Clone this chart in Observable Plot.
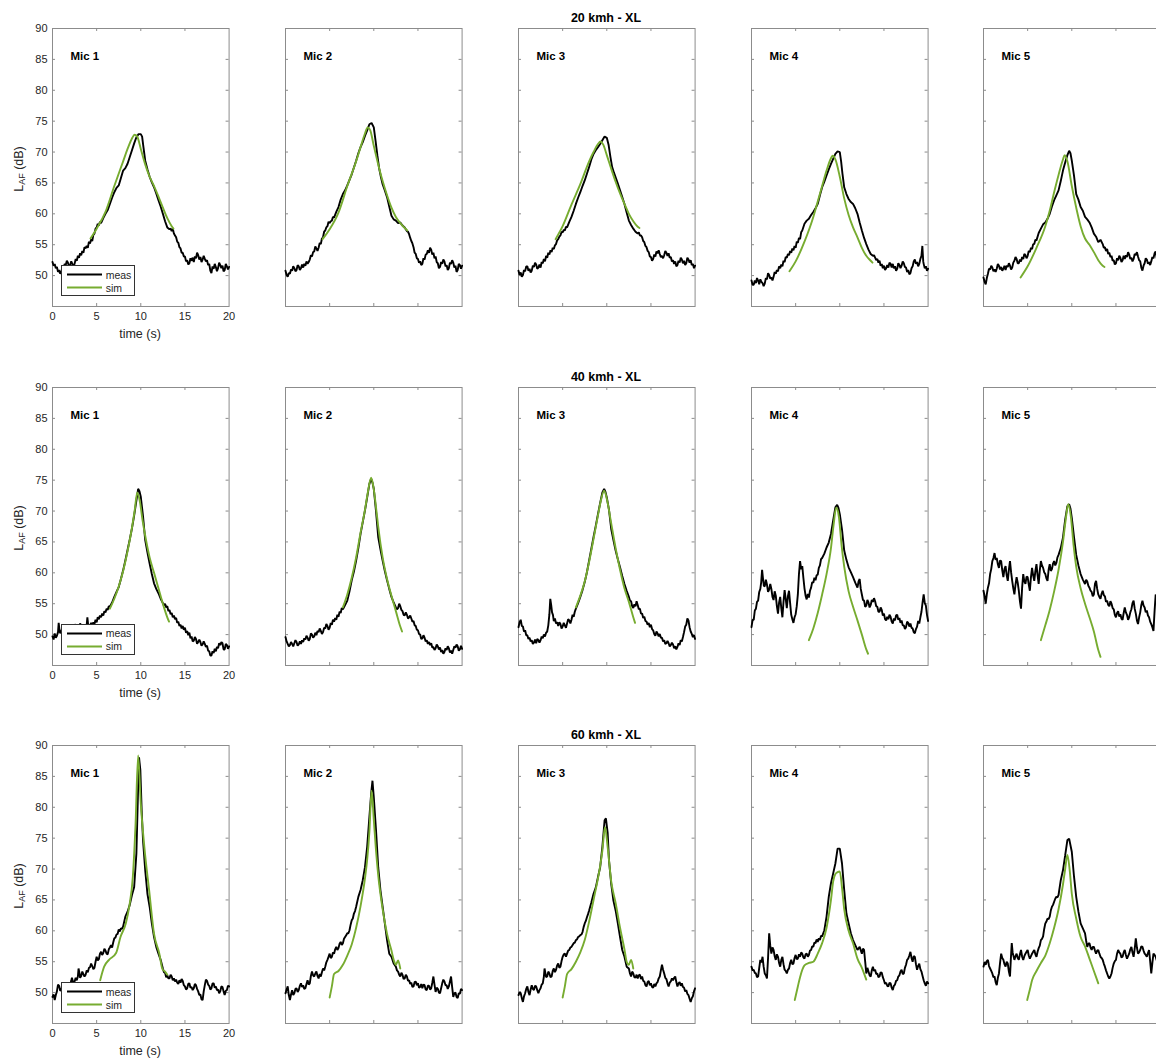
<!DOCTYPE html>
<html><head><meta charset="utf-8">
<script src="https://cdn.jsdelivr.net/npm/d3@7"></script>
<script src="https://cdn.jsdelivr.net/npm/@observablehq/plot@0.6"></script>
<style>
body{margin:0;background:#fff;overflow:hidden}
#chart{position:relative;width:1156px;height:1059px;overflow:hidden;font-family:"Liberation Sans",Arial,Helvetica,sans-serif;color:#262626}
.ttl{position:absolute;font-weight:bold;font-size:12.5px;color:#000;transform:translate(-50%,-50%);white-space:nowrap}
.xl{position:absolute;font-size:12.5px;transform:translate(-50%,-50%);white-space:nowrap;color:#262626}
.yl{position:absolute;font-size:12.5px;transform:translate(-50%,-50%) rotate(-90deg);white-space:nowrap;color:#262626}
.yl sub{font-size:9px;vertical-align:-2px}
.leg{position:absolute;background:#fff;border:1px solid #333;box-sizing:border-box;font-size:10.5px;color:#262626}
.leg div{height:13px;display:flex;align-items:center}
</style></head><body><div id="chart"></div>
<script>
// ---------- labels ----------
const speeds = ["20 kmh - XL", "40 kmh - XL", "60 kmh - XL"];
const mics = ["Mic 1", "Mic 2", "Mic 3", "Mic 4", "Mic 5"];
const seriesNames = ["meas", "sim"];
const xTicks = [0, 5, 10, 15, 20];
const yTicks = [50, 55, 60, 65, 70, 75, 80, 85, 90];
const xInnerTicks = [5, 10, 15];
const yInnerTicks = [50, 55, 60, 65, 70, 75, 80, 85];

// ---------- 20 km/h : measured [time s, LAF dB] ----------
const meas20_1 = [[0,52.2],[0.125,51.6],[0.25,51.9],[0.375,51.2],[0.5,51.4],[0.625,50.6],[0.75,50.9],[0.875,50.3],[1,50.6],[1.125,51.4],[1.25,51.1],[1.375,51.9],[1.5,51.7],[1.625,52.4],[1.75,52.1],[1.875,51.4],[2,51.7],[2.125,52.3],[2.25,51.9],[2.375,51.5],[2.5,51.9],[2.625,52.7],[2.75,52.4],[2.875,53.2],[3,52.9],[3.125,53.6],[3.25,53.3],[3.375,54],[3.5,53.7],[3.625,54.6],[3.75,54.4],[3.875,54.8],[4,54.5],[4.125,55.5],[4.25,55.2],[4.375,55.9],[4.5,55.6],[4.625,56.6],[4.75,56.8],[4.875,57.6],[5,57.8],[5.125,58.4],[5.25,58.1],[5.375,58.7],[5.5,58.5],[5.75,59.3],[6,60],[6.25,60.6],[6.5,61.6],[6.75,62.6],[7,63.5],[7.25,64.2],[7.5,64.6],[7.75,65.8],[8,67],[8.25,67.4],[8.5,68.1],[8.75,69.2],[9,70.3],[9.25,71.4],[9.5,72.4],[9.75,72.9],[10,72.9],[10.15,72.5],[10.3,70.8],[10.5,68.6],[10.75,67.2],[11,66],[11.25,65.1],[11.5,64.3],[11.75,63.3],[12,62.2],[12.25,61.2],[12.5,60],[12.75,58.8],[13,57.8],[13.25,57.5],[13.375,57.6],[13.5,57.2],[13.625,57.6],[13.75,56.8],[13.875,56.5],[14,56.2],[14.125,55.5],[14.25,55.3],[14.375,54.6],[14.5,54.4],[14.625,53.7],[14.75,53.7],[14.875,53.1],[15,53.1],[15.125,52.3],[15.25,52.5],[15.375,51.8],[15.5,52],[15.625,52.8],[15.75,52.4],[15.875,52.9],[16,52.2],[16.125,53.1],[16.25,52.8],[16.375,53.7],[16.5,53.3],[16.625,52.6],[16.75,53],[16.875,52.2],[17,52.6],[17.125,53.2],[17.25,52.7],[17.375,52.3],[17.5,52.5],[17.625,51.7],[17.75,51.9],[17.875,50.8],[18,50.4],[18.125,51.5],[18.25,51.1],[18.375,51.9],[18.5,51.4],[18.625,50.7],[18.75,51.2],[18.875,52.1],[19,51.7],[19.125,51.2],[19.25,51.6],[19.375,50.7],[19.5,50.9],[19.625,51.9],[19.75,51.5],[19.875,51],[20,51.4]];
const meas20_2 = [[0,50.8],[0.125,50.1],[0.25,49.8],[0.375,50.4],[0.5,50.3],[0.625,51],[0.75,50.8],[0.875,51.5],[1,51.2],[1.125,50.7],[1.25,50.9],[1.375,51.7],[1.5,51.5],[1.625,50.9],[1.75,51.2],[1.875,51.8],[2,51.3],[2.125,51.9],[2.25,51.6],[2.375,52.3],[2.5,51.9],[2.625,52.2],[2.75,52.6],[2.875,53.3],[3,53.1],[3.125,53.8],[3.25,53.9],[3.375,54.7],[3.5,54.4],[3.625,54],[3.75,54.5],[3.875,55.3],[4,55.1],[4.125,56],[4.25,56.2],[4.375,57.1],[4.5,57.3],[4.625,57.8],[4.75,58],[4.875,58.7],[5,58.5],[5.125,58.8],[5.25,58.9],[5.375,59.5],[5.5,59.4],[5.75,60.3],[6,61.1],[6.25,62.3],[6.5,63.2],[6.75,63.8],[7,64.6],[7.25,65.5],[7.5,66.4],[7.75,67.5],[8,68.6],[8.25,69.8],[8.5,70.8],[8.75,71.6],[9,72.6],[9.25,73.5],[9.5,74.5],[9.75,74.7],[10,74],[10.2,71.8],[10.4,69.5],[10.6,67.4],[10.8,66],[11,64.8],[11.25,63.8],[11.5,62.7],[11.75,61.2],[12,59.7],[12.25,59.1],[12.5,58.9],[12.75,58.5],[13,58.6],[13.25,58.1],[13.5,57.8],[13.75,57.2],[13.875,57.1],[14,56.7],[14.125,56.1],[14.25,55.6],[14.375,55.2],[14.5,54.6],[14.625,53.7],[14.75,53.5],[14.875,52.8],[15,52.7],[15.125,52.1],[15.25,52.3],[15.375,51.7],[15.5,51.9],[15.625,52.8],[15.75,52.6],[15.875,53.4],[16,53.5],[16.125,54.1],[16.25,53.7],[16.375,54.5],[16.5,54.2],[16.625,53.4],[16.75,53.7],[16.875,52.8],[17,53.1],[17.125,52.2],[17.25,52],[17.375,51.2],[17.5,51.4],[17.625,52.2],[17.75,51.9],[17.875,52.6],[18,52.3],[18.125,51.5],[18.25,51.7],[18.375,50.9],[18.5,51.2],[18.625,52.1],[18.75,51.9],[18.875,52.5],[19,52.1],[19.125,51.3],[19.25,51.6],[19.375,50.6],[19.5,50.9],[19.625,51.9],[19.75,51.7],[19.875,51.1],[20,51.6]];
const meas20_3 = [[0,50.8],[0.125,50.1],[0.25,50.5],[0.375,49.8],[0.5,50.1],[0.625,50.9],[0.75,50.7],[0.875,51.5],[1,51.5],[1.125,50.8],[1.25,51.1],[1.375,50.5],[1.5,50.8],[1.625,51.6],[1.75,51.4],[1.875,52.1],[2,51.8],[2.125,51.1],[2.25,51.3],[2.375,51.8],[2.5,51.3],[2.625,52.2],[2.75,52],[2.875,52.7],[3,52.3],[3.125,53.2],[3.25,52.9],[3.375,53.7],[3.5,53.4],[3.625,54.1],[3.75,53.8],[3.875,54.5],[4,54.3],[4.125,54.9],[4.25,55.1],[4.375,55.7],[4.5,55.9],[4.625,56.3],[4.75,56.5],[4.875,57.1],[5,57],[5.125,57.4],[5.25,57.3],[5.375,57.9],[5.5,57.8],[5.75,58.7],[6,59.5],[6.25,60.5],[6.5,61.6],[6.75,62.6],[7,63.5],[7.25,64.5],[7.5,65.4],[7.75,66.5],[8,67.6],[8.25,68.8],[8.5,69.7],[8.75,70.3],[9,70.8],[9.25,71.3],[9.5,71.9],[9.75,72.5],[10,72.3],[10.2,71.2],[10.4,69.3],[10.6,67.6],[10.8,66.7],[11,65.9],[11.25,64.9],[11.5,63.8],[11.75,62.7],[12,61.6],[12.25,60.2],[12.5,58.9],[12.75,58.2],[13,57.6],[13.25,57.1],[13.5,56.8],[13.625,57],[13.75,56.5],[13.875,56.5],[14,56.2],[14.125,55.6],[14.25,55.4],[14.375,54.8],[14.5,54.6],[14.625,54],[14.75,53.8],[14.875,53.1],[15,53],[15.125,52.4],[15.25,52.7],[15.375,53.4],[15.5,53.1],[15.625,53.9],[15.75,53.6],[15.875,54.1],[16,53.5],[16.125,53],[16.25,53.2],[16.375,52.8],[16.5,53.3],[16.625,54],[16.75,53.7],[16.875,53.2],[17,53.6],[17.125,52.9],[17.25,53],[17.375,52.3],[17.5,52.5],[17.625,51.9],[17.75,52.3],[17.875,51.5],[18,51.7],[18.125,52.4],[18.25,52.1],[18.375,52.9],[18.5,52.6],[18.625,52],[18.75,52.4],[18.875,51.7],[19,52],[19.125,52.9],[19.25,52.6],[19.375,52.1],[19.5,52.5],[19.625,51.7],[19.75,51.9],[19.875,51.2],[20,51.6]];
const meas20_4 = [[0,49.2],[0.125,48.5],[0.25,48.5],[0.375,49.2],[0.5,48.8],[0.625,49.6],[0.75,49.2],[0.875,48.6],[1,49.4],[1.125,49],[1.25,48.8],[1.375,48.3],[1.5,48.7],[1.625,49.6],[1.75,49.4],[1.875,50.4],[2,50.1],[2.125,49.5],[2.25,49.7],[2.375,49.2],[2.5,49.8],[2.625,50.6],[2.75,50.3],[2.875,50.9],[3,50.7],[3.125,51.5],[3.25,51.2],[3.375,51.8],[3.5,51.5],[3.625,52.4],[3.75,52.2],[3.875,53],[4,52.9],[4.125,53.5],[4.25,53.3],[4.375,54],[4.5,53.7],[4.625,54.4],[4.75,54.1],[4.875,54.8],[5,54.5],[5.125,55.5],[5.25,55.3],[5.375,56.1],[5.5,55.9],[5.625,57],[5.75,57.3],[6,58.4],[6.25,58.9],[6.5,59.2],[6.75,59.8],[7,60.3],[7.25,60.9],[7.5,61.6],[7.75,63],[8,64.3],[8.25,65.2],[8.5,66.2],[8.75,67.2],[9,68.1],[9.25,68.9],[9.5,69.7],[9.75,70.1],[10,70],[10.15,68.5],[10.3,66.5],[10.5,64.3],[10.75,63.2],[11,62.4],[11.25,61.9],[11.5,61.6],[11.75,60.9],[12,60],[12.25,58.6],[12.5,57.3],[12.75,56.1],[13,55.1],[13.25,54.2],[13.5,53.5],[13.75,53.2],[13.875,53.3],[14,52.9],[14.125,52.5],[14.25,52.7],[14.375,52.1],[14.5,52.4],[14.625,51.6],[14.75,51.9],[14.875,51.2],[15,51.6],[15.125,50.9],[15.25,51.2],[15.375,51.7],[15.5,51.3],[15.625,52.1],[15.75,51.9],[15.875,51.3],[16,51.9],[16.125,51.2],[16.25,51.5],[16.375,50.8],[16.5,51.1],[16.625,52],[16.75,51.7],[16.875,51.2],[17,51.6],[17.125,52.3],[17.25,52],[17.375,51.4],[17.5,51.3],[17.625,50.6],[17.75,50.9],[17.875,50.2],[18,50.4],[18.125,51.2],[18.25,51.5],[18.375,52.3],[18.5,52.6],[18.625,51.9],[18.75,52.2],[18.875,51.5],[19,51.9],[19.125,52.7],[19.25,53.2],[19.35,54.8],[19.45,52.3],[19.5,51.9],[19.625,51.2],[19.75,51.5],[19.875,50.8],[20,51.1]];
const meas20_5 = [[0,49.7],[0.125,49],[0.25,48.6],[0.375,49.6],[0.5,50.3],[0.625,51.1],[0.75,51],[0.875,51.6],[1,51.3],[1.125,50.7],[1.25,51],[1.375,50.6],[1.5,51.1],[1.625,51.9],[1.75,51.6],[1.875,51],[2,51.4],[2.125,50.8],[2.25,51.1],[2.375,51.6],[2.5,50.9],[2.625,51.6],[2.75,51.4],[2.875,52],[3,51.6],[3.125,51],[3.25,51.3],[3.375,52.1],[3.5,52.4],[3.625,53],[3.75,52.7],[3.875,52],[4,52],[4.125,52.6],[4.25,52.3],[4.375,53],[4.5,52.7],[4.625,53.5],[4.75,53.3],[4.875,52.8],[5,53.2],[5.125,54],[5.25,53.8],[5.375,54.5],[5.5,54.3],[5.625,55.1],[5.75,55.1],[5.875,55.8],[6,55.7],[6.25,56.9],[6.5,57.6],[6.75,58.3],[7,58.6],[7.25,59.2],[7.5,60],[7.75,61.2],[8,62.2],[8.25,63],[8.5,63.8],[8.75,65.3],[9,67],[9.25,68.3],[9.5,69.5],[9.7,70.2],[9.85,69.8],[10,68.6],[10.25,66.2],[10.5,63.2],[10.75,62.3],[11,61.1],[11.25,60.5],[11.5,59.5],[11.75,59.1],[12,58.6],[12.25,57.8],[12.5,56.8],[12.75,56.3],[13,55.4],[13.25,55.8],[13.5,55.1],[13.625,54.5],[13.75,54.6],[13.875,54],[14,54.3],[14.125,53.5],[14.25,53.7],[14.375,53],[14.5,53.2],[14.625,52.4],[14.75,52.5],[14.875,51.8],[15,52],[15.125,52.8],[15.25,52.5],[15.375,53.2],[15.5,52.9],[15.625,52.2],[15.75,52.5],[15.875,53.2],[16,52.7],[16.125,53.3],[16.25,53],[16.375,53.8],[16.5,53.4],[16.625,52.7],[16.75,52.9],[16.875,52.3],[17,52.7],[17.125,53.5],[17.25,53.3],[17.375,53.8],[17.5,53.1],[17.625,52.5],[17.75,52.3],[17.875,51.3],[18,50.8],[18.125,51.6],[18.25,52],[18.375,52.8],[18.5,52.6],[18.625,51.9],[18.75,52.2],[18.875,51.7],[19,52.3],[19.125,53],[19.25,52.8],[19.375,53.6],[19.5,53.9],[19.625,52.8],[19.75,52.7],[19.875,52.1],[20,52.7]];

// ---------- 20 km/h : simulated ----------
const sim20_1 = [[4.3,56],[5,57.6],[6,60.3],[7,64.5],[8,68.5],[8.5,70.5],[9,72.2],[9.3,72.8],[9.6,72.5],[10,70.5],[10.5,68],[11,66],[11.5,64.5],[12,62.8],[12.5,61],[13,59.3],[13.5,58],[13.7,57.6]];
const sim20_2 = [[4.2,55.9],[5,57.5],[6,60.2],[7,64.5],[8,68.5],[8.5,70.8],[9,73],[9.3,74],[9.6,73.5],[10,71],[10.5,68],[11,65.3],[11.5,63],[12,61],[12.5,59.5],[13,58.5],[13.5,57.7],[13.8,57.3]];
const sim20_3 = [[4.2,55.9],[5,58],[6,61.5],[7,64.8],[8,68.5],[8.5,70],[9,71.3],[9.3,71.7],[9.6,71.2],[10,69.5],[10.5,67.3],[11,65.2],[11.5,63.3],[12,61.6],[12.5,60],[13,58.8],[13.5,57.9],[13.7,57.7]];
const sim20_4 = [[4.3,50.7],[5,52.3],[6,55.5],[7,59.5],[7.5,62],[8,64.5],[8.5,67],[9,69],[9.2,69.4],[9.5,68.8],[10,66],[10.5,62.5],[11,59.8],[11.5,57.8],[12,56.2],[12.5,54.5],[13,53.2],[13.5,52.4],[13.7,52.1]];
const sim20_5 = [[4.2,49.7],[5,51.5],[6,54.5],[7,58],[7.5,60.5],[8,63.5],[8.5,66.3],[9,68.8],[9.2,69.5],[9.5,68.5],[10,64.5],[10.5,61],[11,58],[11.5,56],[12,55],[12.5,53.8],[13,52.5],[13.5,51.6],[13.7,51.4]];

// ---------- 40 km/h : measured ----------
const meas40_1 = [[0,49.7],[0.125,49.2],[0.25,50.2],[0.375,49.5],[0.5,49.8],[0.625,50.4],[0.7,51.9],[0.8,50.6],[0.875,50.2],[1,50.6],[1.125,51.1],[1.25,50.9],[1.375,51.5],[1.5,51.1],[1.625,50.5],[1.75,50.8],[1.875,51.4],[2,50.9],[2.125,51.5],[2.25,51.3],[2.375,50.7],[2.5,51.2],[2.625,51.7],[2.75,50.9],[2.875,51.5],[3,51.2],[3.125,51.8],[3.25,51.5],[3.375,51.1],[3.5,51.6],[3.625,51.2],[3.75,51.4],[3.875,51.6],[3.95,52.8],[4.05,51.4],[4.2,51.3],[4.375,51.9],[4.5,51.4],[4.625,52],[4.75,51.7],[4.875,52.4],[5,52],[5.125,52.8],[5.25,52.5],[5.375,53.1],[5.5,52.8],[5.625,53.4],[5.75,53.1],[5.875,53.8],[6,53.6],[6.125,54.2],[6.25,54],[6.375,54.6],[6.5,54.5],[6.75,55.2],[7,56.1],[7.25,56.9],[7.5,57.7],[7.75,59],[8,60.4],[8.25,62],[8.5,63.7],[8.75,65.4],[9,67.2],[9.25,69.3],[9.5,71.7],[9.7,73.6],[9.85,73.2],[10,72.3],[10.25,69.2],[10.5,65.3],[10.75,63.3],[11,61.5],[11.25,59.8],[11.5,58.3],[11.75,57.4],[12,56.7],[12.25,55.8],[12.5,55.1],[12.625,54.7],[12.75,55],[12.875,54.4],[13,54.6],[13.125,53.8],[13.25,54],[13.375,53.3],[13.5,53.5],[13.625,52.8],[13.75,53.1],[13.875,52.5],[14,52.7],[14.125,51.9],[14.25,52.1],[14.375,51.4],[14.5,51.6],[14.625,51],[14.75,51.4],[14.875,50.8],[15,51.1],[15.125,50.3],[15.25,50.6],[15.375,49.9],[15.5,50.3],[15.625,49.4],[15.75,49.7],[15.875,48.9],[16,49],[16.125,49.6],[16.25,49.3],[16.375,48.5],[16.5,48.8],[16.625,49.2],[16.75,48.8],[16.875,48.2],[17,48.4],[17.125,48.9],[17.25,48.5],[17.375,48],[17.5,48.2],[17.625,47.4],[17.75,47.3],[17.875,46.6],[18,46.6],[18.125,47.3],[18.25,47],[18.375,47.7],[18.5,47.3],[18.625,48],[18.75,47.8],[18.875,48.6],[19,48.3],[19.125,48.8],[19.25,48.6],[19.375,47.6],[19.5,47.6],[19.625,48.5],[19.75,48.3],[19.875,47.7],[20,48.1]];
const meas40_2 = [[0,49.6],[0.125,48.9],[0.25,48.5],[0.375,48.1],[0.5,48.3],[0.625,48.8],[0.75,48.5],[0.875,48.1],[1,48.6],[1.125,49.1],[1.25,48.8],[1.375,48.2],[1.5,48.4],[1.625,48.9],[1.75,48.5],[1.875,49.1],[2,48.8],[2.125,49.4],[2.25,49.2],[2.375,49.8],[2.5,49.5],[2.625,49],[2.75,49.3],[2.875,50.2],[3,50],[3.125,49.5],[3.25,49.7],[3.375,50.3],[3.5,49.9],[3.625,50.6],[3.75,50.4],[3.875,51],[4,50.6],[4.125,50.1],[4.25,50.4],[4.375,51.1],[4.5,51],[4.625,51.7],[4.75,51.4],[4.875,50.8],[5,51.1],[5.125,51.9],[5.25,51.6],[5.375,52.4],[5.5,52.1],[5.625,52.7],[5.75,52.4],[5.875,53.2],[6,52.9],[6.125,53.7],[6.25,53.5],[6.375,54.3],[6.5,54.1],[6.75,54.8],[7,55.5],[7.25,57],[7.5,58.8],[7.75,60.2],[8,62],[8.25,64],[8.5,66.3],[8.75,68.2],[9,70.1],[9.25,72.2],[9.5,74.4],[9.7,75.2],[9.85,74.6],[10,73.6],[10.25,70],[10.5,65.8],[10.75,63.8],[11,62],[11.25,60.3],[11.5,58.8],[11.75,57.4],[12,56.1],[12.25,55.2],[12.5,54.4],[12.625,54.1],[12.75,54.3],[12.875,55],[13,54.6],[13.125,54],[13.25,53.8],[13.375,53.2],[13.5,53.1],[13.625,53.6],[13.75,53.2],[13.875,52.6],[14,52.8],[14.125,53.1],[14.25,52.6],[14.375,52.1],[14.5,52.2],[14.625,51.5],[14.75,51.4],[14.875,50.8],[15,50.7],[15.125,50.1],[15.25,50],[15.375,49.3],[15.5,49.4],[15.625,49.9],[15.75,49.5],[15.875,48.9],[16,49.1],[16.125,48.5],[16.25,48.8],[16.375,48.3],[16.5,48.6],[16.625,47.9],[16.75,48],[16.875,47.5],[17,47.8],[17.125,48.4],[17.25,48.1],[17.375,47.6],[17.5,47.9],[17.625,47.2],[17.75,47.5],[17.875,46.9],[18,47.2],[18.125,47.8],[18.25,47.5],[18.375,48.1],[18.5,47.8],[18.625,47.1],[18.75,47.4],[18.875,46.9],[19,47.5],[19.125,48.1],[19.25,47.9],[19.375,48.4],[19.5,48.1],[19.625,47.4],[19.75,47.6],[19.875,48.2],[20,47.7]];
const meas40_3 = [[0,51.2],[0.125,52],[0.25,52.4],[0.375,51.4],[0.5,51.3],[0.625,50.5],[0.75,50.7],[0.875,49.9],[1,49.9],[1.125,49.3],[1.25,49.5],[1.375,48.9],[1.5,49.1],[1.625,48.5],[1.75,48.7],[1.875,49.2],[2,48.6],[2.125,49.3],[2.25,49.1],[2.375,48.7],[2.5,49.1],[2.625,49.7],[2.75,49.4],[2.875,50],[3,49.7],[3.125,50.3],[3.25,50.5],[3.375,51.5],[3.5,53.3],[3.6,55.8],[3.7,54.8],[3.8,53.6],[3.9,53.2],[4,52.2],[4.125,52.6],[4.25,51.8],[4.375,52],[4.5,51.4],[4.625,52],[4.75,51.7],[4.875,51],[5,51.3],[5.125,51.9],[5.25,51.5],[5.375,51.1],[5.5,51.8],[5.625,52.5],[5.75,52.3],[5.875,51.8],[6,52.4],[6.125,53.2],[6.25,52.9],[6.375,53.7],[6.5,54.2],[6.75,55.1],[7,56.1],[7.25,57.2],[7.5,58.5],[7.75,60.1],[8,62],[8.25,63.9],[8.5,65.8],[8.75,67.6],[9,69.5],[9.25,71.3],[9.5,73],[9.7,73.6],[9.85,73.1],[10,72.2],[10.25,70.2],[10.5,67.1],[10.75,65.3],[11,63.6],[11.25,62.2],[11.5,60.9],[11.75,59.5],[12,58.2],[12.25,57.1],[12.5,56.1],[12.625,55.5],[12.75,55.4],[12.875,54.6],[13,54.3],[13.125,54.9],[13.25,54.6],[13.375,55.4],[13.5,54.8],[13.625,54.1],[13.75,54.2],[13.875,53.4],[14,53.4],[14.125,52.7],[14.25,52.9],[14.375,52.2],[14.5,52.1],[14.625,51.6],[14.75,51.9],[14.875,51.2],[15,51.6],[15.125,50.9],[15.25,50.7],[15.375,50.1],[15.5,49.8],[15.625,50.5],[15.75,50.2],[15.875,49.7],[16,50.1],[16.125,49.5],[16.25,49.5],[16.375,48.9],[16.5,49.1],[16.625,48.5],[16.75,48.6],[16.875,49],[17,48.6],[17.125,48.1],[17.25,48.3],[17.375,48.7],[17.5,48.4],[17.625,47.8],[17.75,48.1],[17.875,47.6],[18,48],[18.125,48.6],[18.25,48.3],[18.375,49.1],[18.5,48.9],[18.625,49.6],[18.75,50.4],[18.875,51.3],[19,51.6],[19.125,52.6],[19.25,52.3],[19.375,51.2],[19.5,50.5],[19.625,50.1],[19.75,49.6],[19.875,49.9],[20,49.3]];
const meas40_4 = [[0,51.2],[0.125,52.4],[0.25,52.4],[0.375,53.9],[0.5,54.2],[0.625,55.3],[0.75,55.5],[0.875,56.9],[1,57.4],[1.1,58.5],[1.2,60.5],[1.3,59.1],[1.4,57.9],[1.5,57.8],[1.625,58.9],[1.75,58.1],[1.875,56.9],[2,57.3],[2.125,58.2],[2.25,57.4],[2.375,56.1],[2.5,55.6],[2.625,57],[2.75,56.3],[2.875,54.6],[3,53.4],[3.125,55.2],[3.25,56.1],[3.375,54.3],[3.5,52.8],[3.625,55.3],[3.75,57.2],[3.875,55.8],[4,54.3],[4.125,56.2],[4.25,57.1],[4.375,55.1],[4.5,53.2],[4.625,52.5],[4.75,51.9],[4.875,52.8],[5,53.3],[5.125,54.6],[5.25,56.5],[5.375,59.8],[5.5,61.9],[5.625,60.6],[5.75,61.1],[5.875,59.2],[6,57.5],[6.125,56.3],[6.25,55.7],[6.375,56.6],[6.5,56],[6.625,57.1],[6.75,57.6],[6.875,58.5],[7,58.4],[7.125,59.2],[7.25,58.8],[7.375,59.6],[7.5,59.7],[7.625,60.8],[7.75,61.2],[7.875,62.2],[8,62.4],[8.25,63.1],[8.5,64.1],[8.75,64.9],[9,66.3],[9.25,68.5],[9.5,70.6],[9.7,71],[9.85,70.5],[10,69.5],[10.25,67],[10.5,63.6],[10.75,62.1],[11,60.9],[11.25,60.1],[11.5,59.3],[11.75,58.4],[12,57.6],[12.125,58.6],[12.25,59],[12.375,57.4],[12.5,56.5],[12.625,55.6],[12.75,55.5],[12.875,54.5],[13,54.7],[13.125,55.6],[13.25,55.2],[13.375,54.4],[13.5,54.8],[13.625,55.6],[13.75,55.3],[13.875,55.9],[14,55.4],[14.125,54.6],[14.25,54.5],[14.375,53.7],[14.5,53.7],[14.625,54.4],[14.75,54],[14.875,53.1],[15,53.4],[15.125,52.5],[15.25,52.3],[15.375,52.9],[15.5,52.5],[15.625,53.2],[15.75,52.9],[15.875,52.1],[16,51.8],[16.125,52.6],[16.25,52.3],[16.375,53.1],[16.5,53.2],[16.625,52.4],[16.75,52.7],[16.875,51.9],[17,52.3],[17.125,51.5],[17.25,51.5],[17.375,50.9],[17.5,51.2],[17.625,52.1],[17.75,51.9],[17.875,51.3],[18,51.8],[18.125,51.1],[18.25,51],[18.375,50.4],[18.5,50.2],[18.625,50.9],[18.75,51.3],[18.875,52.2],[19,51.8],[19.125,52.8],[19.25,53.7],[19.375,55.2],[19.5,56.5],[19.625,55.1],[19.75,54.7],[19.875,53.2],[20,52.2]];
const meas40_5 = [[0,57.1],[0.125,56.2],[0.25,55],[0.375,56.5],[0.5,57.6],[0.625,58.3],[0.75,59.8],[0.875,60.6],[1,61.9],[1.125,62.4],[1.25,63.2],[1.375,62.1],[1.5,62.4],[1.625,61.4],[1.75,60.8],[1.875,62],[2,61.9],[2.125,60.4],[2.25,59.3],[2.375,60.6],[2.5,61.1],[2.625,59.6],[2.75,58.7],[2.875,60.5],[3,61.9],[3.125,60.1],[3.25,58.7],[3.375,57.5],[3.5,56.5],[3.625,58.1],[3.75,59.3],[3.875,58.4],[4,57.1],[4.125,55.4],[4.25,54.2],[4.375,57.6],[4.5,59.8],[4.625,58.6],[4.75,58.2],[4.875,59.4],[5,59.3],[5.125,58.1],[5.25,57.1],[5.375,59.3],[5.5,60.8],[5.625,59.6],[5.75,58.7],[5.875,60.3],[6,61.4],[6.125,59.6],[6.25,58.2],[6.375,60.4],[6.5,61.9],[6.625,61.2],[6.75,60.8],[6.875,60.1],[7,59.8],[7.125,59.1],[7.25,58.7],[7.375,60.5],[7.5,61.4],[7.625,60.3],[7.75,60.6],[7.875,61.5],[8,61.9],[8.125,61.2],[8.25,61.6],[8.375,62.5],[8.5,62.9],[8.75,64],[9,65.7],[9.25,68.6],[9.5,70.8],[9.7,71.1],[9.85,70.4],[10,68.9],[10.25,65.8],[10.5,62.9],[10.75,61.2],[11,59.8],[11.25,58.9],[11.5,58.2],[11.625,58.9],[11.75,58.6],[11.875,57.9],[12,57.6],[12.125,57.1],[12.25,56.9],[12.375,56.2],[12.5,56.5],[12.625,58.2],[12.75,58.7],[12.875,57.4],[13,56.5],[13.125,56.1],[13.25,55.8],[13.375,56.6],[13.5,57.1],[13.625,56.4],[13.75,56.2],[13.875,55.3],[14,55.5],[14.125,54.8],[14.25,54.6],[14.375,55.4],[14.5,55],[14.625,54.3],[14.75,54.1],[14.875,53.2],[15,52.8],[15.125,53.5],[15.25,53.8],[15.375,52.9],[15.5,53.3],[15.625,52.6],[15.75,52.4],[15.875,53.5],[16,54.4],[16.125,53.6],[16.25,53.2],[16.375,52.4],[16.5,52.8],[16.625,53.6],[16.75,54.1],[16.875,55.1],[17,55.5],[17.125,54.2],[17.25,53.4],[17.375,52.3],[17.5,51.7],[17.625,52.8],[17.75,53.6],[17.875,54.8],[18,55.5],[18.125,54.7],[18.25,54.4],[18.375,53.6],[18.5,53.9],[18.625,53.1],[18.75,52.8],[18.875,52.1],[19,51.7],[19.125,51.2],[19.25,50.6],[19.375,53.8],[19.5,56.5],[19.625,55.6],[19.75,55.2],[19.875,54.3],[20,54.4]];

// ---------- 40 km/h : simulated ----------
const sim40_1 = [[6.5,54.2],[7,55.8],[7.5,57.8],[8,60.3],[8.5,63.5],[9,67.3],[9.3,70],[9.6,73],[9.9,71.5],[10.2,68.5],[10.5,66],[11,62.5],[11.5,60],[12,57.5],[12.5,55],[13,52.8],[13.2,52.1]];
const sim40_2 = [[6.5,54.4],[7,56.5],[7.5,59.2],[8,62.5],[8.5,66.5],[9,70.2],[9.3,72.8],[9.7,75.4],[10,73.5],[10.3,70],[10.5,67.5],[11,62.5],[11.5,59],[12,56.3],[12.5,53.8],[13,51.3],[13.2,50.5]];
const sim40_3 = [[6.5,54.4],[7,56.3],[7.5,58.6],[8,61.8],[8.5,65.5],[9,69.3],[9.3,71.5],[9.7,73.3],[10,72],[10.5,68],[11,64],[11.5,60.5],[12,57.5],[12.5,55.3],[13,52.8],[13.2,51.9]];
const sim40_4 = [[6.5,49.1],[7,51],[7.5,53.5],[8,56.5],[8.5,59.8],[9,64],[9.3,67.8],[9.6,70.6],[9.9,69],[10.2,64.5],[10.5,61],[11,57],[11.5,54.5],[12,52.3],[12.5,50],[13,47.6],[13.2,46.9]];
const sim40_5 = [[6.5,49.1],[7,51.5],[7.5,54],[8,57],[8.5,60.5],[9,65],[9.3,68.5],[9.6,71.1],[9.9,69],[10.2,64.5],[10.5,61],[11,57.5],[11.5,55],[12,52.8],[12.5,50.5],[13,47.5],[13.25,46.4]];

// ---------- 60 km/h : measured ----------
const meas60_1 = [[0,49.3],[0.125,49.7],[0.25,48.8],[0.375,49.6],[0.5,50.2],[0.625,51.3],[0.75,51.1],[0.875,50.3],[1,50.5],[1.125,51.1],[1.25,50.8],[1.375,50.3],[1.5,50.9],[1.625,51.5],[1.75,51.2],[1.875,50.8],[2,51.4],[2.125,51.9],[2.2,52.4],[2.35,51.6],[2.5,51.8],[2.625,52.4],[2.75,52],[2.875,52.6],[2.95,53.9],[3.05,53.2],[3.125,52.4],[3.25,52.7],[3.375,53.4],[3.5,53],[3.625,52.6],[3.75,52.9],[3.875,53.6],[4,53.3],[4.125,54],[4.25,54.1],[4.375,54.7],[4.5,54.3],[4.625,53.8],[4.75,54],[4.875,55],[5,55.8],[5.125,55.2],[5.25,55.4],[5.375,56.3],[5.5,56.6],[5.625,56.1],[5.75,56.4],[5.875,57.1],[6,56.8],[6.125,56.3],[6.25,56.2],[6.375,57],[6.5,57.3],[6.625,57.7],[6.75,57.3],[6.875,58.1],[7,58.8],[7.125,58.9],[7.25,59.4],[7.375,59.5],[7.5,60.2],[7.625,59.9],[7.75,60.4],[7.875,60.3],[8,60.7],[8.25,62.3],[8.5,63.1],[8.75,64.2],[9,65.8],[9.25,67.1],[9.5,72.5],[9.7,83.3],[9.8,88.1],[9.95,86],[10.1,79.5],[10.25,74.7],[10.5,69.8],[10.75,66],[11,63.9],[11.25,61.2],[11.5,59],[11.75,57.4],[12,56.3],[12.25,55.3],[12.5,53.9],[12.625,53.3],[12.75,53.2],[12.875,52.5],[13,52.8],[13.125,52.3],[13.25,52.3],[13.375,52.9],[13.5,52.6],[13.625,52],[13.75,52.3],[13.875,51.8],[14,52.1],[14.125,51.6],[14.25,51.4],[14.375,52],[14.5,51.6],[14.625,52.2],[14.75,51.9],[14.875,51.2],[15,51],[15.125,50.5],[15.25,50.7],[15.375,51.4],[15.5,51.5],[15.625,50.8],[15.75,50.9],[15.875,50.4],[16,50.7],[16.125,51.4],[16.25,51.2],[16.375,50.6],[16.5,50.2],[16.625,49.6],[16.75,49.7],[16.875,48.9],[17,48.8],[17.125,50.2],[17.25,51.2],[17.375,52.1],[17.5,51.9],[17.625,51.3],[17.75,51.1],[17.875,50.5],[18,50.7],[18.125,51.5],[18.25,51.5],[18.375,50.8],[18.5,51],[18.625,50.4],[18.75,50.5],[18.875,49.9],[19,50.2],[19.125,51],[19.25,50.9],[19.375,50.2],[19.5,49.6],[19.625,50.3],[19.75,50.4],[19.875,51.1],[20,51]];
const meas60_2 = [[0,49.9],[0.125,50.5],[0.25,51],[0.375,49.6],[0.5,48.8],[0.625,49.7],[0.75,50.4],[0.875,49.6],[1,49.9],[1.125,50.6],[1.25,50.7],[1.375,50.1],[1.5,50.4],[1.625,51.1],[1.75,51.5],[1.875,50.9],[2,51.2],[2.125,50.6],[2.25,50.7],[2.375,51.4],[2.5,52],[2.625,51.3],[2.75,51.5],[2.875,52.7],[3,53.4],[3.125,52.8],[3.25,52.6],[3.375,53.1],[3.5,53.4],[3.625,52.7],[3.75,52.3],[3.875,53],[4,52.6],[4.125,53.3],[4.25,53.9],[4.375,53.6],[4.5,54.2],[4.625,54.9],[4.75,55.3],[4.875,55.8],[5,56.3],[5.125,55.6],[5.25,55.8],[5.375,56.5],[5.5,56.3],[5.625,57],[5.75,57.4],[5.875,56.9],[6,57.2],[6.125,57.9],[6.25,58.2],[6.375,57.7],[6.5,58],[6.625,58.7],[6.75,59],[6.875,59.3],[7,59.6],[7.125,59.6],[7.25,60.1],[7.375,61],[7.5,61.7],[7.625,62],[7.75,62.8],[7.875,63.2],[8,63.9],[8.25,65.5],[8.5,66.6],[8.75,68.2],[9,70.3],[9.25,73.6],[9.5,78.4],[9.7,82.2],[9.85,84.3],[10,81.6],[10.25,76.3],[10.5,70.3],[10.75,66.6],[11,63.9],[11.25,61.2],[11.5,58.5],[11.75,56.3],[12,55.8],[12.25,54.7],[12.5,54.2],[12.625,53.6],[12.75,53.4],[12.875,52.9],[13,52.6],[13.125,53.2],[13.25,52.9],[13.375,52.2],[13.5,52.3],[13.625,52.9],[13.75,52.6],[13.875,51.9],[14,52],[14.125,51.4],[14.25,51.6],[14.375,50.9],[14.5,51],[14.625,51.7],[14.75,51.8],[14.875,51.2],[15,51.5],[15.125,50.8],[15.25,50.9],[15.375,51.4],[15.5,50.7],[15.625,51.3],[15.75,51.2],[15.875,50.5],[16,50.4],[16.125,51.1],[16.25,51.1],[16.375,50.5],[16.5,50.7],[16.625,51.6],[16.75,52.6],[16.875,51.3],[17,50.1],[17.125,50.8],[17.25,50.6],[17.375,50],[17.5,49.9],[17.625,50.7],[17.75,51.5],[17.875,52.1],[18,51.8],[18.125,51.2],[18.25,51.2],[18.375,50.6],[18.5,51],[18.625,51.8],[18.75,52.6],[18.875,50.9],[19,49.3],[19.125,49.9],[19.25,50],[19.375,49.3],[19.5,49.1],[19.625,49.9],[19.75,49.8],[19.875,50.6],[20,50.4]];
const meas60_3 = [[0,49.6],[0.125,50.1],[0.25,49.9],[0.375,49.1],[0.5,48.5],[0.625,49.4],[0.75,49.9],[0.875,50.6],[1,51],[1.125,50.1],[1.25,49.6],[1.375,50.5],[1.5,51.2],[1.625,50.6],[1.75,50.4],[1.875,51.1],[2,51],[2.125,50.4],[2.25,49.9],[2.375,50.4],[2.5,50.7],[2.625,51.3],[2.75,51.5],[2.875,52.6],[2.95,53.9],[3.05,53.1],[3.125,52.5],[3.25,52.6],[3.375,53.4],[3.5,53.1],[3.625,52.5],[3.75,52.6],[3.875,53.5],[4,53.9],[4.125,53.3],[4.25,53.7],[4.375,54.4],[4.5,54.7],[4.625,54],[4.75,54.2],[4.875,55.1],[5,55.8],[5.125,56.2],[5.25,56.3],[5.375,55.8],[5.5,56.3],[5.625,56.8],[5.75,56.9],[5.875,57.3],[6,57.4],[6.125,57.7],[6.25,58],[6.375,58.1],[6.5,58.5],[6.625,58.6],[6.75,59],[6.875,59.1],[7,59.3],[7.125,59.4],[7.25,59.8],[7.375,60.6],[7.5,61.2],[7.625,61.6],[7.75,62.2],[7.875,62.7],[8,63.3],[8.25,64.6],[8.5,66],[8.75,67],[9,68.7],[9.25,70.3],[9.5,73.6],[9.75,77.9],[9.9,78.2],[10.1,75.8],[10.25,71.4],[10.5,67.6],[10.75,64.9],[11,63.3],[11.25,61.2],[11.5,59],[11.75,56.9],[12,55.8],[12.25,54.2],[12.5,53.9],[12.625,53.1],[12.75,52.6],[12.875,53.4],[13,53.1],[13.125,52.5],[13.25,52.4],[13.375,52.9],[13.5,52.3],[13.625,52.8],[13.75,52.9],[13.875,52.2],[14,52.6],[14.125,51.9],[14.25,51.8],[14.375,51.2],[14.5,51],[14.625,51.7],[14.75,51.9],[14.875,51.2],[15,51.5],[15.125,50.9],[15.25,50.8],[15.375,51.4],[15.5,51],[15.625,51.5],[15.75,51.7],[15.875,52.3],[16,52.6],[16.125,53.6],[16.25,54.5],[16.375,53.7],[16.5,53.1],[16.625,52.4],[16.75,52.2],[16.875,51.5],[17,51],[17.125,51.6],[17.25,51.8],[17.375,52.3],[17.5,52],[17.625,52.4],[17.75,52.6],[17.875,51.7],[18,51],[18.125,51.5],[18.25,51.7],[18.375,51.1],[18.5,51.5],[18.625,50.9],[18.75,50.8],[18.875,50.2],[19,50.4],[19.125,49.8],[19.25,49.6],[19.375,49],[19.5,48.5],[19.625,49.1],[19.75,49.4],[19.875,50.2],[20,50.7]];
const meas60_4 = [[0,54.2],[0.125,53.6],[0.25,53.7],[0.375,53.2],[0.5,53.1],[0.625,52.5],[0.75,52.6],[0.875,54],[1,55.3],[1.125,54.9],[1.25,55.8],[1.375,54.2],[1.5,53.1],[1.625,52.8],[1.75,52.3],[1.875,55.6],[2,59.6],[2.125,57.6],[2.25,56.3],[2.375,57.3],[2.5,56.9],[2.625,55.9],[2.75,55.3],[2.875,56.2],[3,55.8],[3.125,54.8],[3.25,54.2],[3.375,55.3],[3.5,55.8],[3.625,54.6],[3.75,53.7],[3.875,53.5],[4,53.1],[4.125,53.7],[4.25,53.9],[4.375,54.8],[4.5,55.3],[4.625,54.6],[4.75,54.7],[4.875,55.6],[5,56.1],[5.125,55.4],[5.25,55.5],[5.375,56.2],[5.5,55.8],[5.625,56.5],[5.75,56.3],[5.875,55.7],[6,55.5],[6.125,56.2],[6.25,56.3],[6.375,55.8],[6.5,56.1],[6.625,56.8],[6.75,56.9],[6.875,57.5],[7,57.4],[7.125,58.1],[7.25,58],[7.375,58.6],[7.5,58.2],[7.625,58.8],[7.75,58.5],[7.875,59.2],[8,59.1],[8.25,60.1],[8.5,62.3],[8.75,65.5],[9,67.7],[9.25,69.3],[9.5,70.9],[9.75,73.3],[10,73.3],[10.25,70.9],[10.5,66.6],[10.75,62.8],[11,61.2],[11.25,59.6],[11.5,58.5],[11.75,57.7],[12,56.9],[12.25,57.4],[12.5,56.3],[12.625,57.1],[12.75,56.9],[12.875,55],[13,53.1],[13.125,54],[13.25,53.4],[13.375,52.8],[13.5,52.6],[13.625,53.6],[13.75,54.2],[13.875,53.5],[14,53.7],[14.125,53],[14.25,53.1],[14.375,52.5],[14.5,52.6],[14.625,53.3],[14.75,53.2],[14.875,52.5],[15,52],[15.125,51.4],[15.25,51.6],[15.375,51.1],[15.5,51],[15.625,51.6],[15.75,51.5],[15.875,50.8],[16,50.4],[16.125,51.1],[16.25,51.3],[16.375,51.9],[16.5,52],[16.625,52.6],[16.75,52.8],[16.875,53.4],[17,53.7],[17.125,53],[17.25,53.1],[17.375,54],[17.5,54.5],[17.625,55.3],[17.75,55.5],[17.875,56],[18,56.6],[18.125,55.6],[18.25,55],[18.375,55.9],[18.5,55.8],[18.625,54.6],[18.75,53.7],[18.875,54.3],[19,54.7],[19.125,53.8],[19.25,53.4],[19.375,52.7],[19.5,52],[19.625,51.5],[19.75,51.1],[19.875,51.8],[20,51.5]];
const meas60_5 = [[0,54.2],[0.125,54.9],[0.25,54.5],[0.375,55.1],[0.5,55.3],[0.625,54.3],[0.75,53.9],[0.875,53.5],[1,53.1],[1.125,52.5],[1.25,52.6],[1.375,51.7],[1.5,51.2],[1.625,52.4],[1.75,53.1],[1.875,54.8],[2,56.3],[2.125,55.6],[2.25,55.3],[2.375,54.6],[2.5,54.2],[2.625,55],[2.75,54.7],[2.875,53.4],[3,52.6],[3.1,55.5],[3.2,58],[3.3,56.5],[3.5,55.3],[3.625,55.9],[3.75,56.3],[3.875,55.6],[4,55.3],[4.125,56.2],[4.25,56.9],[4.375,55.8],[4.5,55.3],[4.625,55.9],[4.75,56.3],[4.875,56.6],[5,56.9],[5.125,56],[5.25,55.5],[5.375,55.9],[5.5,56.3],[5.625,56.6],[5.75,56.9],[5.875,56.2],[6,55.8],[6.125,56.6],[6.25,57.2],[6.375,57.6],[6.5,58.5],[6.625,58.7],[6.75,59.1],[6.875,60.3],[7,61.2],[7.125,61.5],[7.25,62],[7.375,61.9],[7.5,62.3],[7.625,63.3],[7.75,63.9],[7.875,64.2],[8,64.7],[8.125,65.2],[8.25,65.5],[8.375,65.4],[8.5,65.8],[8.75,68.2],[9,69.8],[9.25,72.2],[9.5,74.7],[9.7,74.9],[10,72.8],[10.25,68.8],[10.5,65.5],[10.75,63.1],[11,61.2],[11.25,60.4],[11.5,59.6],[11.625,58.4],[11.75,57.4],[11.875,57.9],[12,58],[12.125,57.3],[12.25,56.9],[12.375,57.4],[12.5,57.4],[12.625,56.8],[12.75,56.3],[12.875,56.8],[13,56.9],[13.125,56.3],[13.25,55.8],[13.375,55.6],[13.5,55.3],[13.625,54.7],[13.75,54.2],[13.875,53.6],[14,53.1],[14.125,52.6],[14.25,52.3],[14.375,52.6],[14.5,53.1],[14.625,54],[14.75,54.7],[14.875,55.1],[15,55.3],[15.125,56.3],[15.25,56.9],[15.375,56.5],[15.5,56.3],[15.625,55.7],[15.75,55.8],[15.875,56.5],[16,56.9],[16.125,56.1],[16.25,55.5],[16.375,55.9],[16.5,56.3],[16.625,57],[16.75,57.4],[16.875,56.5],[17,55.8],[17.125,57.1],[17.25,58.8],[17.375,57.3],[17.5,56.3],[17.625,56.5],[17.75,56.9],[17.875,57.5],[18,57.4],[18.125,56.8],[18.25,56.3],[18.375,56.1],[18.5,55.8],[18.625,56.4],[18.75,56.9],[18.875,55.1],[19,53.1],[19.125,54.8],[19.25,56.3],[19.375,56.1],[19.5,55.8],[19.625,55.2],[19.75,55.2],[19.875,55.8],[20,56.3]];

// ---------- 60 km/h : simulated ----------
const sim60_1 = [[5.4,52],[5.85,54.2],[6.4,55.3],[7.2,56.4],[7.7,59],[8.3,61.2],[8.7,64],[9.1,68.8],[9.4,77],[9.7,88.4],[10,80.6],[10.4,73.6],[10.95,66.5],[11.5,59.5],[12.1,56.3],[12.45,53.8],[12.75,53.4],[13,52.9]];
const sim60_2 = [[5,49.2],[5.25,51],[5.5,53],[6,53.5],[6.5,54.5],[7,56],[7.5,57.8],[8,60.5],[8.5,64],[9,68.5],[9.25,71.5],[9.5,76],[9.75,82.7],[10,78],[10.25,73],[10.5,69],[11,63.5],[11.5,59.5],[12,56.8],[12.25,55.3],[12.5,54.5],[12.75,55.2],[13,53.9]];
const sim60_3 = [[5,49.2],[5.25,51],[5.5,53],[6,53.8],[6.5,55],[7,56.5],[7.5,58.5],[8,61.5],[8.5,65],[9,68.5],[9.25,70.5],[9.5,73],[9.8,76.8],[10.1,73.5],[10.5,68],[11,64.5],[11.5,60.5],[12,57],[12.25,55],[12.5,54.5],[12.75,55.3],[13,53.9]];
const sim60_4 = [[4.9,48.8],[5.25,51],[5.5,52.5],[6,54.4],[6.5,54.8],[7,55],[7.5,56.3],[8,58],[8.5,60.5],[9,65],[9.25,68],[9.5,69.2],[9.75,69.5],[10,69.6],[10.25,67],[10.5,63.5],[11,60],[11.5,58],[12,55.5],[12.5,54],[13,52.1]];
const sim60_5 = [[4.95,48.8],[5.25,50.5],[5.5,52],[6,53.5],[6.5,54.8],[7,56],[7.5,58],[8,60.5],[8.5,63.5],[9,67.5],[9.25,70],[9.5,72.3],[9.75,70],[10,66],[10.5,62],[11,59],[11.5,57.5],[12,55.5],[12.5,53.5],[13,51.5]];

// tables assembled from the named arrays
const measRows = [[meas20_1, meas20_2, meas20_3, meas20_4, meas20_5],[meas40_1, meas40_2, meas40_3, meas40_4, meas40_5],[meas60_1, meas60_2, meas60_3, meas60_4, meas60_5]];
const simRows = [[sim20_1, sim20_2, sim20_3, sim20_4, sim20_5],[sim40_1, sim40_2, sim40_3, sim40_4, sim40_5],[sim60_1, sim60_2, sim60_3, sim60_4, sim60_5]];

// ---------- layout ----------
const colLeft = [51.7, 284.7, 517.7, 750.5, 983.4];
const rowTop = [28, 386.5, 745];
const PW = 176.6, PH = 278;
const ML = 45, MR = 6, MT = 6, MB = 40;
const FRAME = "#8c8c8c";
const GREEN = "#77AC30";
const TL = 3; // tick length

const chart = document.getElementById("chart");

function addDiv(cls, html, left, top, extra) {
  const d = document.createElement("div");
  d.className = cls; d.innerHTML = html;
  d.style.left = left + "px"; d.style.top = top + "px";
  if (extra) Object.assign(d.style, extra);
  chart.appendChild(d);
  return d;
}

for (let r = 0; r < 3; r++) {
  for (let c = 0; c < 5; c++) {
    const first = c === 0;
    const p = Plot.plot({
      width: ML + PW + MR, height: MT + PH + MB,
      marginLeft: ML, marginRight: MR, marginTop: MT, marginBottom: MB,
      style: {background: "transparent", overflow: "visible", fontFamily: '"Liberation Sans", Arial, sans-serif', fontSize: "11px", color: "#262626"},
      x: {domain: [0, 20], axis: null},
      y: {domain: [45, 90], axis: null},
      marks: [
        Plot.frame({stroke: FRAME, strokeWidth: 1}),
        Plot.ruleX(xInnerTicks, {x: d => d, insetTop: PH - TL, stroke: FRAME}),
        Plot.ruleX(xInnerTicks, {x: d => d, insetBottom: PH - TL, stroke: FRAME}),
        Plot.ruleY(yInnerTicks, {y: d => d, insetRight: PW - TL, stroke: FRAME}),
        Plot.ruleY(yInnerTicks, {y: d => d, insetLeft: PW - TL, stroke: FRAME}),
        first ? Plot.axisX(xTicks, {anchor: "bottom", tickSize: 0, tickPadding: 6, label: null, fontSize: 11, fill: "#262626"}) : null,
        first ? Plot.axisY(yTicks, {anchor: "left", tickSize: 0, tickPadding: 5, label: null, fontSize: 11, fill: "#262626"}) : null,
        Plot.line(measRows[r][c], {x: d => d[0], y: d => d[1], stroke: "#000", strokeWidth: 1.9, strokeLinejoin: "miter"}),
        Plot.line(simRows[r][c], {x: d => d[0], y: d => d[1], stroke: GREEN, strokeWidth: 1.9, curve: "monotone-x"}),
        Plot.text([mics[c]], {text: d => d, frameAnchor: "top-left", dx: 18, dy: 28, textAnchor: "start", lineAnchor: "middle", fontWeight: "bold", fontSize: 11.5, fill: "#000"})
      ]
    });
    p.style.position = "absolute";
    p.style.left = (colLeft[c] - ML) + "px";
    p.style.top = (rowTop[r] - MT) + "px";
    chart.appendChild(p);
  }
  addDiv("ttl", speeds[r], colLeft[2] + PW / 2, rowTop[r] - 10);
  addDiv("xl", "time (s)", colLeft[0] + PW / 2, rowTop[r] + PH + 28);
  addDiv("yl", "L<sub>AF</sub> (dB)", 19, rowTop[r] + PH / 2 + 2);
  const lg = addDiv("leg", "", colLeft[0] + 9, rowTop[r] + PH - 41, {width: "74px", height: "31px", padding: "2px 0 0 4px"});
  lg.innerHTML = seriesNames.map((n, i) =>
    `<div><svg width="38" height="13"><line x1="1" x2="36" y1="6.5" y2="6.5" stroke="${i ? GREEN : "#000"}" stroke-width="1.9"/></svg><span style="margin-left:2px">${n}</span></div>`
  ).join("");
}
</script></body></html>
